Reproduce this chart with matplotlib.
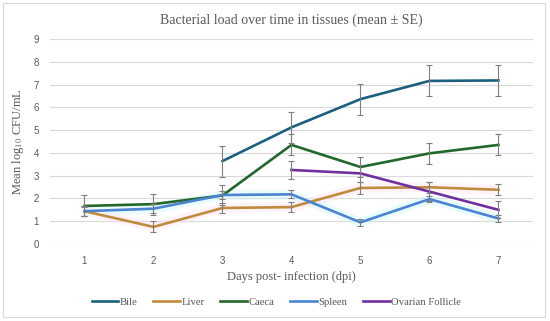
import matplotlib
matplotlib.use("Agg")
import matplotlib.pyplot as plt
from matplotlib.patches import Rectangle
import numpy as np

days = [1, 2, 3, 4, 5, 6, 7]
series_names = ["Bile", "Liver", "Caeca", "Spleen", "Ovarian Follicle"]
bile = [np.nan, np.nan, 3.64, 5.12, 6.36, 7.16, 7.18]
bile_se = [np.nan, np.nan, 0.68, 0.68, 0.68, 0.68, 0.68]
liver = [1.44, 0.75, 1.58, 1.62, 2.46, 2.49, 2.38]
liver_se = [0.20, 0.24, 0.24, 0.23, 0.25, 0.24, 0.24]
caeca = [1.67, 1.75, 2.13, 4.35, 3.38, 3.98, 4.35]
caeca_se = [0.46, 0.46, 0.44, 0.46, 0.44, 0.46, 0.46]
spleen = [1.44, 1.55, 2.15, 2.18, 0.95, 1.97, 1.12]
spleen_se = [0.22, 0.20, 0.18, 0.17, 0.16, 0.12, 0.17]
ovarian = [np.nan, np.nan, np.nan, 3.25, 3.10, 2.30, 1.50]
ovarian_se = [np.nan, np.nan, np.nan, 0.40, 0.38, 0.40, 0.38]

colors = ["#1c5f7f", "#c08b3c", "#23672b", "#4a84d2", "#7030a0"]
values = [bile, liver, caeca, spleen, ovarian]
errors = [bile_se, liver_se, caeca_se, spleen_se, ovarian_se]

plt.rcParams["mathtext.fontset"] = "stix"
serif = ["Liberation Serif", "DejaVu Serif"]
sans = ["Liberation Sans", "DejaVu Sans"]

fig = plt.figure(figsize=(5.5, 3.21), dpi=100)
ax = fig.add_axes([0.0909, 0.2399, 0.969 - 0.0909, 0.8785 - 0.2399])

# faint glow behind some lines
ax.plot(days, spleen, color="#ccf6f8", lw=7, alpha=0.4, zorder=1, solid_capstyle="butt")
ax.plot(days, liver, color="#fde2ee", lw=7, alpha=0.4, zorder=1, solid_capstyle="butt")

for name, v, e, c in zip(series_names, values, errors, colors):
    ax.errorbar(days, v, yerr=e, fmt="none", ecolor="#7f7f7f", elinewidth=0.8,
                capsize=2.5, capthick=0.8, zorder=3)
for name, v, e, c in zip(series_names, values, errors, colors):
    ax.plot(days, v, color=c, lw=1.9, label=name, zorder=2, solid_joinstyle="miter")

ax.set_xlim(0.5, 7.5)
ax.set_ylim(0, 9)
ax.set_yticks(range(0, 10))
ax.set_xticks(days)
ax.grid(axis="y", color="#d9d9d9", lw=0.8)
ax.set_axisbelow(True)
for s in ax.spines.values():
    s.set_visible(False)
ax.tick_params(length=0, labelsize=7, labelcolor="#595959", pad=8)
ax.tick_params(axis="x", pad=9)
for lab in ax.get_xticklabels() + ax.get_yticklabels():
    lab.set_family(sans)

ax.set_title("Bacterial load over time in tissues (mean ± SE)", family=serif,
             fontsize=10, color="#595959", pad=11)
ax.set_xlabel("Days post- infection (dpi)", family=serif, fontsize=9, color="#595959", labelpad=3)
ax.set_ylabel(r"Mean log$_{10}$ CFU/mL", family=serif, fontsize=9, color="#595959", labelpad=5)

leg = fig.legend(loc="center", bbox_to_anchor=(0.502, 0.059), ncol=5, frameon=False,
                 prop={"family": serif, "size": 7.7}, handlelength=2.5, handletextpad=0.1,
                 columnspacing=1.5)
for t in leg.get_texts():
    t.set_color("#595959")

fig.patches.append(Rectangle((3 / 550, 4 / 321), 542 / 550, 314 / 321, transform=fig.transFigure,
                             fill=False, edgecolor="#d9d9d9", lw=0.8))

fig.savefig("out.png", dpi=100)
